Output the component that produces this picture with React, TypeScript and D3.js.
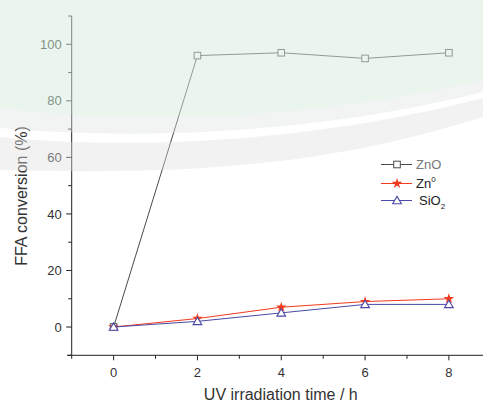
import React from "react";
import * as d3 from "d3";

const times = [0, 2, 4, 6, 8];
const znoValues = [0, 96, 97, 95, 97];
const zn0Values = [0, 3, 7, 9, 10];
const sio2Values = [0, 2, 5, 8, 8];
const xMajorTicks = [0, 2, 4, 6, 8];
const xMinorTicks = [-1, 1, 3, 5, 7];
const yMajorTicks = [0, 20, 40, 60, 80, 100];
const yMinorTicks = [-10, 10, 30, 50, 70, 90, 110];

const W = 483;
const H = 406;
const FONT = "'Liberation Sans', Arial, sans-serif";

export default function App() {
  const x = d3.scaleLinear().domain([-1, 9]).range([71.7, 490.8]);
  const y = d3.scaleLinear().domain([-10, 110]).range([355.3, 16]);
  const line = d3
    .line<number>()
    .x((_, i) => x(times[i]))
    .y((d) => y(d));

  const star = d3.symbol().type(d3.symbolStar).size(34)();
  const tri = (cx: number, cy: number, r: number) =>
    `M${cx},${cy - r}L${cx + r * 0.95},${cy + r * 0.6}L${cx - r * 0.95},${cy + r * 0.6}Z`;

  const axX = x(-1);
  const axY = y(-10);

  const grayC = "#4a4a4a";
  const redC = "#f23a1e";
  const blueC = "#4a4aa6";

  return (
    <svg
      width={W}
      height={H}
      style={{ position: "absolute", left: 0, top: 0, background: "#fff" }}
      fontFamily={FONT}
    >
      <rect x={0} y={0} width={W} height={H} fill="#fff" />
      {/* axes */}
      <line x1={axX} x2={axX} y1={y(110)} y2={axY} stroke="#222" strokeWidth={1} />
      <line x1={67} x2={W} y1={axY} y2={axY} stroke="#222" strokeWidth={1} />
      {yMajorTicks.map((t) => (
        <g key={"ym" + t}>
          <line x1={axX - 5.5} x2={axX} y1={y(t)} y2={y(t)} stroke="#222" />
          <text x={axX - 10} y={y(t) + 4.6} textAnchor="end" fontSize={13} fill="#333">
            {t}
          </text>
        </g>
      ))}
      {yMinorTicks.map((t) => (
        <line key={"yn" + t} x1={axX - 3.5} x2={axX} y1={y(t)} y2={y(t)} stroke="#222" />
      ))}
      {xMajorTicks.map((t) => (
        <g key={"xm" + t}>
          <line x1={x(t)} x2={x(t)} y1={axY} y2={axY + 5} stroke="#222" />
          <text x={x(t)} y={axY + 21.5} textAnchor="middle" fontSize={13} fill="#333">
            {t}
          </text>
        </g>
      ))}
      {xMinorTicks.map((t) => (
        <line key={"xn" + t} x1={x(t)} x2={x(t)} y1={axY} y2={axY + 3.5} stroke="#222" />
      ))}
      <text x={(x(-1) + 490.8) / 2 - 0.5} y={400} textAnchor="middle" fontSize={16} fill="#333">
        UV irradiation time / h
      </text>
      <text
        transform={`translate(27,196) rotate(-90)`}
        textAnchor="middle"
        fontSize={16}
        fill="#333"
      >
        FFA conversion (%)
      </text>

      {/* ZnO */}
      <path d={line(znoValues) || ""} fill="none" stroke={grayC} strokeWidth={1} />
      {znoValues.map((v, i) => (
        <rect
          key={"zs" + i}
          x={x(times[i]) - 3.3}
          y={y(v) - 3.3}
          width={6.6}
          height={6.6}
          fill="#fff"
          stroke={grayC}
          strokeWidth={1}
        />
      ))}
      {/* Zn0 */}
      <path d={line(zn0Values) || ""} fill="none" stroke={redC} strokeWidth={1} />
      {zn0Values.map((v, i) => (
        <path key={"rs" + i} d={star || ""} transform={`translate(${x(times[i])},${y(v)})`} fill={redC} />
      ))}
      {/* SiO2 */}
      <path d={line(sio2Values) || ""} fill="none" stroke={blueC} strokeWidth={1} />
      {sio2Values.map((v, i) => (
        <path key={"bt" + i} d={tri(x(times[i]), y(v) + 0.5, 4.6)} fill="#fff" stroke={blueC} strokeWidth={1.1} />
      ))}

      {/* legend */}
      <g>
        <line x1={381} x2={412} y1={164.5} y2={164.5} stroke={grayC} />
        <rect x={393.7} y={161.2} width={6.6} height={6.6} fill="#fff" stroke={grayC} />
        <text x={416} y={169} fontSize={13} fill="#777">ZnO</text>
        <line x1={381} x2={412} y1={183.5} y2={183.5} stroke={redC} />
        <path d={star || ""} transform="translate(397,183.5)" fill={redC} />
        <text x={416} y={188} fontSize={13} fill="#222">
          Zn<tspan dy={-6} fontSize={8}>0</tspan>
        </text>
        <line x1={381} x2={412} y1={200.5} y2={200.5} stroke={blueC} />
        <path d={tri(397, 201, 4.6)} fill="#fff" stroke={blueC} strokeWidth={1.1} />
        <text x={419} y={205} fontSize={13} fill="#222">
          SiO<tspan dy={4} fontSize={8}>2</tspan>
        </text>
      </g>

      {/* watermark overlay */}
      <path d="M0,0H483V80C330,115 160,128 0,108Z" fill="rgb(212,235,220)" opacity={0.5} />
      <path
        d="M0,108C160,128 330,115 483,80L483,92C330,130 160,142 0,128Z"
        fill="rgb(222,226,224)"
        opacity={0.4}
      />
      <path
        d="M0,137C150,152 330,138 483,98L483,117C330,165 200,175 0,170Z"
        fill="rgb(222,222,222)"
        opacity={0.4}
      />
    </svg>
  );
}
